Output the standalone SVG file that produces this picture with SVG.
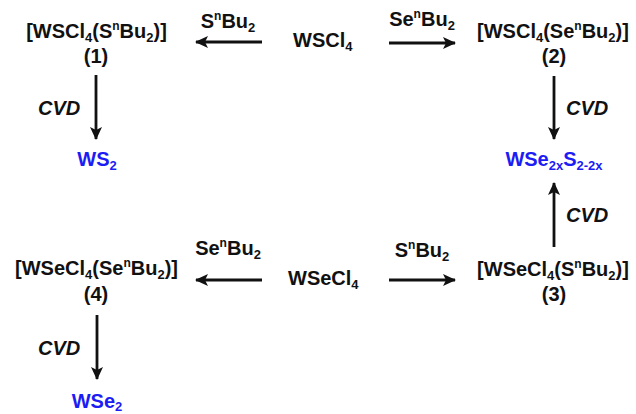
<svg xmlns="http://www.w3.org/2000/svg" width="636" height="414" viewBox="0 0 636 414">
<style>
text{font-family:"Liberation Sans",Arial,sans-serif;font-weight:bold;font-size:20px;fill:#111}
.c{text-anchor:middle}
.b{fill:#1c1cf5}
.i{font-style:italic}
.sub{font-size:13px}
.sup{font-size:12px}
.arr{stroke:#111;stroke-width:2.8;fill:none;marker-end:url(#ah)}
</style>
<defs>
<marker id="ah" markerUnits="userSpaceOnUse" markerWidth="14" markerHeight="14" refX="12" refY="7" orient="auto">
<path d="M0,1 L13,7 L0,13 L3,7 z" fill="#111"/>
</marker>
</defs>
<g id="connectors">
<line class="arr" x1="262" y1="42" x2="196" y2="42"/>
<line class="arr" x1="389" y1="43" x2="455" y2="43"/>
<line class="arr" x1="96" y1="75" x2="96" y2="139"/>
<line class="arr" x1="554" y1="76" x2="554" y2="139"/>
<line class="arr" x1="554" y1="247" x2="554" y2="183"/>
<line class="arr" x1="262" y1="280" x2="196" y2="280"/>
<line class="arr" x1="389" y1="280" x2="455" y2="280"/>
<line class="arr" x1="97" y1="315" x2="97" y2="379"/>
<text class="c" x="228" y="28">S<tspan class="sup" dy="-8">n</tspan><tspan dy="8">Bu</tspan><tspan class="sub" dy="4">2</tspan></text>
<text class="c" x="422" y="26">Se<tspan class="sup" dy="-8">n</tspan><tspan dy="8">Bu</tspan><tspan class="sub" dy="4">2</tspan></text>
<text class="i" x="38" y="115">CVD</text>
<text class="i" x="566" y="115">CVD</text>
<text class="i" x="566" y="222">CVD</text>
<text class="c" x="228" y="255">Se<tspan class="sup" dy="-8">n</tspan><tspan dy="8">Bu</tspan><tspan class="sub" dy="4">2</tspan></text>
<text class="c" x="422" y="257">S<tspan class="sup" dy="-8">n</tspan><tspan dy="8">Bu</tspan><tspan class="sub" dy="4">2</tspan></text>
<text class="i" x="38" y="355">CVD</text>
</g>
<g id="wscl4">
<text x="293" y="47">WSCl<tspan class="sub" dy="4">4</tspan></text>
</g>
<g id="c1">
<text class="c" x="96.5" y="38">[WSCl<tspan class="sub" dy="4">4</tspan><tspan dy="-4">(S</tspan><tspan class="sup" dy="-8">n</tspan><tspan dy="8">Bu</tspan><tspan class="sub" dy="4">2</tspan><tspan dy="-4">)]</tspan></text>
<text class="c" x="96" y="63">(1)</text>
</g>
<g id="c2">
<text class="c" x="553" y="38">[WSCl<tspan class="sub" dy="4">4</tspan><tspan dy="-4">(Se</tspan><tspan class="sup" dy="-8">n</tspan><tspan dy="8">Bu</tspan><tspan class="sub" dy="4">2</tspan><tspan dy="-4">)]</tspan></text>
<text class="c" x="554" y="63">(2)</text>
</g>
<g id="ws2">
<text class="c b" x="97" y="166">WS<tspan class="sub" dy="4">2</tspan></text>
</g>
<g id="wse2xs2">
<text class="c b" x="554" y="166">WSe<tspan class="sub" dy="4">2x</tspan><tspan dy="-4">S</tspan><tspan class="sub" dy="4">2-2x</tspan></text>
</g>
<g id="wsecl4">
<text x="288" y="285">WSeCl<tspan class="sub" dy="4">4</tspan></text>
</g>
<g id="c4">
<text class="c" x="96.5" y="275">[WSeCl<tspan class="sub" dy="4">4</tspan><tspan dy="-4">(Se</tspan><tspan class="sup" dy="-8">n</tspan><tspan dy="8">Bu</tspan><tspan class="sub" dy="4">2</tspan><tspan dy="-4">)]</tspan></text>
<text class="c" x="96" y="301">(4)</text>
</g>
<g id="c3">
<text class="c" x="553" y="276">[WSeCl<tspan class="sub" dy="4">4</tspan><tspan dy="-4">(S</tspan><tspan class="sup" dy="-8">n</tspan><tspan dy="8">Bu</tspan><tspan class="sub" dy="4">2</tspan><tspan dy="-4">)]</tspan></text>
<text class="c" x="554" y="301">(3)</text>
</g>
<g id="wse2">
<text class="c b" x="97" y="408">WSe<tspan class="sub" dy="3">2</tspan></text>
</g>
</svg>
